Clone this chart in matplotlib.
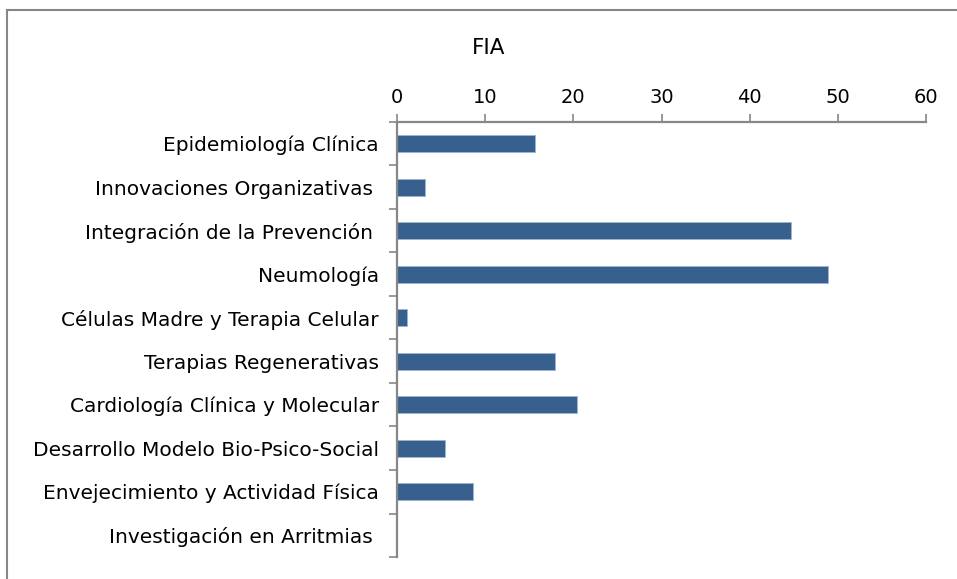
import matplotlib
matplotlib.use("Agg")
import matplotlib.pyplot as plt
from matplotlib.lines import Line2D

categorias = ["Epidemiología Clínica",
              "Innovaciones Organizativas ",
              "Integración de la Prevención ",
              "Neumología",
              "Células Madre y Terapia Celular",
              "Terapias Regenerativas",
              "Cardiología Clínica y Molecular",
              "Desarrollo Modelo Bio-Psico-Social",
              "Envejecimiento y Actividad Física",
              "Investigación en Arritmias "]
fia = [15.6, 3.2, 44.7, 48.9, 1.1, 17.9, 20.4, 5.4, 8.6, 0]
x_ticks = [0, 10, 20, 30, 40, 50, 60]

plt.rcParams['font.family'] = ['DejaVu Sans']
azul = '#37608F'
gris = '#878787'

fig = plt.figure(figsize=(9.57, 5.79), dpi=100)
ax = fig.add_axes([397/957, 1 - 557/579, (926 - 397)/957, (557 - 122)/579])

pos = list(range(len(categorias)))
ax.barh(pos, fia, height=0.4, color=azul, edgecolor='#9fb4cf', linewidth=0.6)
ax.set_ylim(len(categorias) - 0.5, -0.5)
ax.set_xlim(0, 60)

ax.xaxis.tick_top()
ax.set_xticks(x_ticks)
ax.set_xticklabels([str(t) for t in x_ticks], fontsize=14)
ax.tick_params(axis='x', direction='out', length=6, width=1.2, color=gris, pad=5)

# ticks del eje y en los limites entre categorias, etiquetas centradas
ax.set_yticks([p - 0.5 for p in pos] + [len(categorias) - 0.5])
ax.set_yticklabels([])
ax.set_yticks(pos, minor=True)
ax.set_yticklabels(categorias, minor=True, fontsize=14.5)
ax.tick_params(axis='y', which='major', direction='out', length=6, width=1.2, color=gris)
ax.tick_params(axis='y', which='minor', length=0, pad=13)

for s in ['right', 'bottom']:
    ax.spines[s].set_visible(False)
for s in ['left', 'top']:
    ax.spines[s].set_color(gris)
    ax.spines[s].set_linewidth(1.6)

fig.text(489/957, 1 - 48/579, "FIA", fontsize=15.5, ha='center', va='center')

# marco exterior del grafico
fig.add_artist(Line2D([7/957, 1], [1 - 9.5/579, 1 - 9.5/579], color=gris, lw=1.5))
fig.add_artist(Line2D([7/957, 7/957], [0, 1 - 9.5/579], color=gris, lw=1.5))

fig.savefig("out.png", dpi=100)
